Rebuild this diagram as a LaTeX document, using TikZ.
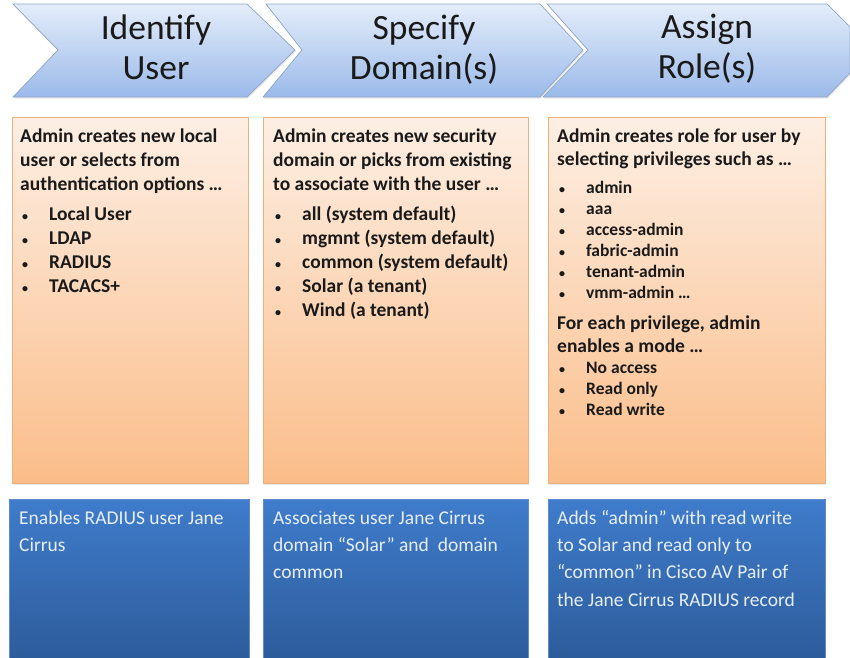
\documentclass[tikz,border=0pt]{standalone}
\usepackage{fontspec}
\setmainfont{Carlito}
\usepackage{tikz}
\usetikzlibrary{shadows}

\definecolor{chevtop}{HTML}{E4EDFA}
\definecolor{chevbot}{HTML}{9BBAEA}
\definecolor{chevline}{HTML}{8EA5C4}
\definecolor{peachtop}{HTML}{FDEFE4}
\definecolor{peachbot}{HTML}{FBBD89}
\definecolor{peachline}{HTML}{EBB080}
\definecolor{bluetop}{HTML}{3F7CCB}
\definecolor{bluebot}{HTML}{2D5C9B}
\definecolor{blueline}{HTML}{5C8DD2}
\definecolor{bluetext}{HTML}{E8EEF8}
\definecolor{darktext}{HTML}{1A1A1A}

\newcommand{\bitem}[1]{\hspace*{2pt}\makebox[27pt][l]{\fontsize{12}{12}\selectfont\textbullet}#1}

\begin{document}
\begin{tikzpicture}
    [x=1pt, y=-1pt,
     chevron/.style={draw=chevline, line width=0.7pt, top color=chevtop, bottom color=chevbot,
       drop shadow={opacity=0.18, shadow xshift=1pt, shadow yshift=-1.5pt}},
     peachbox/.style={draw=peachline, line width=0.6pt, top color=peachtop, bottom color=peachbot,
       anchor=north west, inner sep=0pt,
       drop shadow={opacity=0.18, shadow xshift=1pt, shadow yshift=-1.5pt}},
     bluebox/.style={draw=blueline, line width=0.6pt, top color=bluetop, bottom color=bluebot,
       anchor=north west, inner sep=0pt},
     every node/.style={inner sep=0pt}]
    \useasboundingbox (0,0) rectangle (850,657);

    % arrows on top
    \path [chevron] (13,4) -- (247,4) -- (295,50) -- (247,97) -- (13,97) -- (58,50) -- cycle;
    \path [chevron] (266,4) -- (540,4) -- (583,50) -- (540,97) -- (263,97) -- (302,50) -- cycle;
    \path [chevron] (547,4) -- (827,4) -- (850,27) -- (850,73) -- (827,97) -- (543,97) -- (588,50) -- cycle;

    \node (identify) [anchor=base, text=darktext] at (156,39) {
      \parbox[t]{240pt}{\centering\fontsize{35.5}{40}\selectfont
        Identify\\User}
    };
    \node (specify) [anchor=base, text=darktext] at (424,39) {
      \parbox[t]{260pt}{\centering\fontsize{35.5}{40}\selectfont
        Specify\\Domain(s)}
    };
    \node (assign) [anchor=base, text=darktext] at (707,38) {
      \parbox[t]{260pt}{\centering\fontsize{35.5}{40}\selectfont
        Assign\\Role(s)}
    };

    % orange boxes
    \node (userbox) [peachbox, minimum width=236, minimum height=366] at (12,117) {};
    \node (domainbox) [peachbox, minimum width=265, minimum height=366] at (263,117) {};
    \node (rolebox) [peachbox, minimum width=277, minimum height=366] at (548,117) {};

    \node (usertext) [anchor=base west, text=darktext] at (20,142) {
      \parbox[t]{226pt}{\raggedright\bfseries\fontsize{19.5}{24}\selectfont
        Admin creates new local\\
        user or selects from\\
        authentication options …\\[6pt]
        \bitem{Local User}\\
        \bitem{LDAP}\\
        \bitem{RADIUS}\\
        \bitem{TACACS+}}
    };
    \node (domaintext) [anchor=base west, text=darktext] at (273,142) {
      \parbox[t]{252pt}{\raggedright\bfseries\fontsize{19.5}{24}\selectfont
        Admin creates new security\\
        domain or picks from existing\\
        to associate with the user …\\[6pt]
        \bitem{all (system default)}\\
        \bitem{mgmnt (system default)}\\
        \bitem{common (system default)}\\
        \bitem{Solar (a tenant)}\\
        \bitem{Wind (a tenant)}}
    };
    \node (roletext) [anchor=base west, text=darktext] at (557,142) {
      \parbox[t]{265pt}{\raggedright\bfseries\fontsize{19.5}{21}\selectfont
        Admin creates role for user by\\[2pt]
        selecting privileges such as …\\[7pt]
        \fontsize{17.5}{21}\selectfont
        \bitem{admin}\\
        \bitem{aaa}\\
        \bitem{access-admin}\\
        \bitem{fabric-admin}\\
        \bitem{tenant-admin}\\
        \bitem{vmm-admin …}\\[10pt]
        \fontsize{19.5}{21}\selectfont
        For each privilege, admin\\[2pt]
        enables a mode …\\
        \fontsize{17.5}{21}\selectfont
        \bitem{No access}\\
        \bitem{Read only}\\
        \bitem{Read write}}
    };

    % blue boxes
    \node (userresult) [bluebox, minimum width=240, minimum height=159] at (9,499) {};
    \node (domainresult) [bluebox, minimum width=265, minimum height=159] at (263,499) {};
    \node (roleresult) [bluebox, minimum width=277, minimum height=159] at (548,499) {};

    \node (usernote) [anchor=base west, text=bluetext] at (19,524) {
      \parbox[t]{226pt}{\raggedright\fontsize{19.5}{27.4}\selectfont
        Enables RADIUS user Jane\\
        Cirrus}
    };
    \node (domainnote) [anchor=base west, text=bluetext] at (273,524) {
      \parbox[t]{252pt}{\raggedright\fontsize{19.5}{27.4}\selectfont
        Associates user Jane Cirrus\\
        domain “Solar” and ~domain\\
        common}
    };
    \node (rolenote) [anchor=base west, text=bluetext] at (557,524) {
      \parbox[t]{265pt}{\raggedright\fontsize{19.5}{27.4}\selectfont
        Adds “admin” with read write\\
        to Solar and read only to\\
        “common” in Cisco AV Pair of\\
        the Jane Cirrus RADIUS record}
    };
\end{tikzpicture}
\end{document}
